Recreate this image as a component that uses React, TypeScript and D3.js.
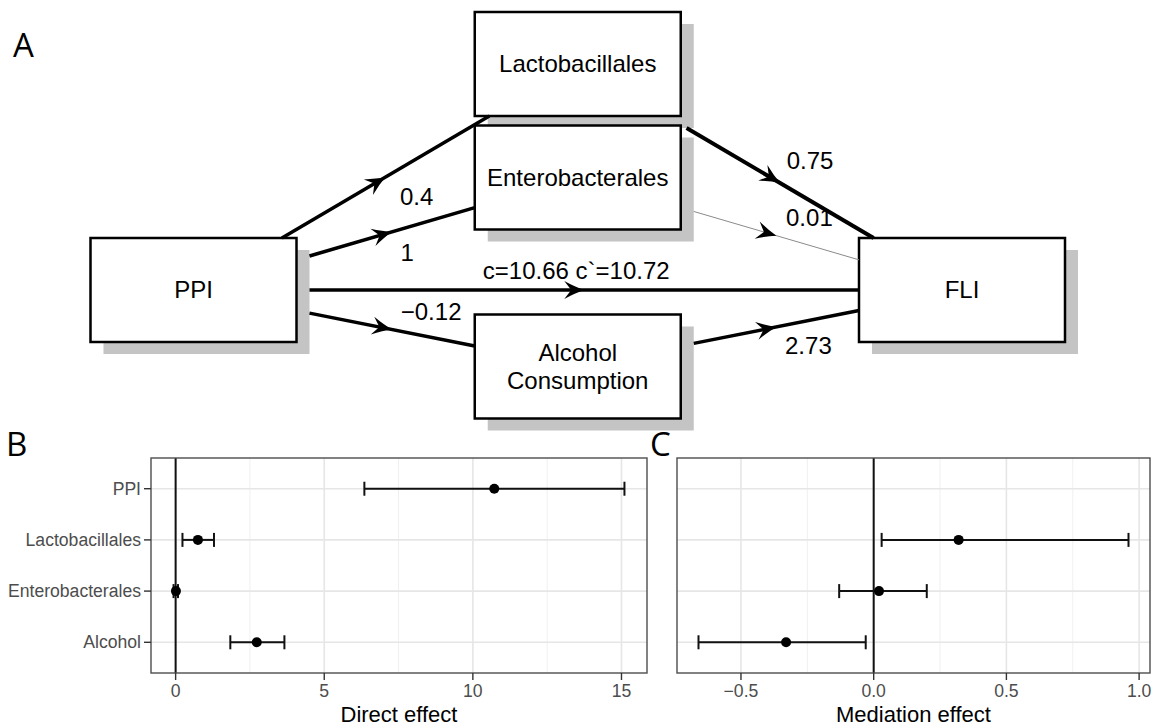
import React from "react";
import * as d3 from "d3";

// ---- path model (panel A) ----
const nodeNames = ["PPI", "Lactobacillales", "Enterobacterales", "Alcohol Consumption", "FLI"];
const edgeFrom = ["PPI", "PPI", "PPI", "PPI", "Lactobacillales", "Enterobacterales", "Alcohol Consumption"];
const edgeTo = ["Lactobacillales", "Enterobacterales", "FLI", "Alcohol Consumption", "FLI", "FLI", "FLI"];
const edgeLabels = ["0.4", "1", "c=10.66 c`=10.72", "\u22120.12", "0.75", "0.01", "2.73"];

// ---- forest plots (panels B, C) ----
const effectNames = ["PPI", "Lactobacillales", "Enterobacterales", "Alcohol"];
const directEst = [10.72, 0.75, 0.01, 2.73];
const directLow = [6.35, 0.23, -0.07, 1.84];
const directHigh = [15.1, 1.29, 0.08, 3.66];
const mediationNames = ["Lactobacillales", "Enterobacterales", "Alcohol"];
const mediationEst = [0.32, 0.02, -0.33];
const mediationLow = [0.03, -0.13, -0.66];
const mediationHigh = [0.96, 0.2, -0.03];

// layout of the diagram (column index + vertical centre)
const nodeCol: Record<string, number> = { PPI: 0, Lactobacillales: 1, Enterobacterales: 1, "Alcohol Consumption": 1, FLI: 2 };
const nodeCy: Record<string, number> = { PPI: 290, Lactobacillales: 64, Enterobacterales: 177.5, "Alcohol Consumption": 366.5, FLI: 290 };
const labelOffset = [[31, 20], [15, 21], [-8, -19], [39, -18], [30, -22], [33, -18], [32, 19]];
const edgeWidth = [3.5, 3.5, 3.5, 3.5, 4, 1, 3.5];

const W = 1155;
const H = 727;
const BOX_W = 206;
const BOX_H = 104;
const SH_X = 13;
const SH_Y = 12;
const sans = "'Liberation Sans', Arial, Helvetica, sans-serif";

type Rect = { x1: number; y1: number; x2: number; y2: number };

// where a ray from the box centre leaves the rectangle
function exitPoint(cx: number, cy: number, dx: number, dy: number, r: Rect) {
  let t = Infinity;
  if (dx > 0) t = Math.min(t, (r.x2 - cx) / dx);
  if (dx < 0) t = Math.min(t, (r.x1 - cx) / dx);
  if (dy > 0) t = Math.min(t, (r.y2 - cy) / dy);
  if (dy < 0) t = Math.min(t, (r.y1 - cy) / dy);
  return [cx + dx * t, cy + dy * t];
}

const PathDiagram = () => {
  const xCol = d3.scaleLinear().domain([0, 2]).range([193.5, 962]);
  const nodes = nodeNames.map((n) => {
    const cx = xCol(nodeCol[n]);
    const cy = nodeCy[n];
    const box = { x1: cx - BOX_W / 2, y1: cy - BOX_H / 2, x2: cx + BOX_W / 2, y2: cy + BOX_H / 2 };
    const ext = { ...box, x2: box.x2 + SH_X, y2: box.y2 + SH_Y };
    return { name: n, cx, cy, box, ext };
  });
  const byName = new Map(nodes.map((d) => [d.name, d]));

  const edges = edgeFrom.map((f, i) => {
    const a = byName.get(f)!;
    const b = byName.get(edgeTo[i])!;
    const dx = b.cx - a.cx;
    const dy = b.cy - a.cy;
    const [x1, y1] = exitPoint(a.cx, a.cy, dx, dy, a.ext);
    const [x2, y2] = exitPoint(b.cx, b.cy, -dx, -dy, b.box);
    const mx = (x1 + x2) / 2;
    const my = (y1 + y2) / 2;
    const ang = (Math.atan2(y2 - y1, x2 - x1) * 180) / Math.PI;
    return { x1, y1, x2, y2, mx, my, ang, label: edgeLabels[i], off: labelOffset[i], w: edgeWidth[i] };
  });

  return (
    <g>
      {nodes.map((d) => (
        <rect key={"s" + d.name} x={d.box.x1 + SH_X} y={d.box.y1 + SH_Y} width={BOX_W} height={BOX_H} fill="#c4c4c4" />
      ))}
      {nodes.map((d) => (
        <rect key={"b" + d.name} x={d.box.x1} y={d.box.y1} width={BOX_W} height={BOX_H} fill="#fff" stroke="#000" strokeWidth={2.5} />
      ))}
      {edges.map((e, i) => (
        <g key={"e" + i}>
          <line x1={e.x1} y1={e.y1} x2={e.x2} y2={e.y2} stroke={e.w < 2 ? "#8a8a8a" : "#000"} strokeWidth={e.w} />
          <path
            d="M0,0 Q-9,-3 -20,-9 L-13,0 L-20,9 Q-9,3 0,0 Z"
            fill="#000"
            transform={`translate(${e.mx},${e.my}) rotate(${e.ang})`}
          />
          <text x={e.mx + e.off[0]} y={e.my + e.off[1]} dy="0.35em" textAnchor="middle" fontFamily={sans} fontSize={24}>
            {e.label}
          </text>
        </g>
      ))}
      {nodes.map((d) => {
        const lines = d.name === "Alcohol Consumption" ? ["Alcohol", "Consumption"] : [d.name];
        return (
          <text key={"t" + d.name} x={d.cx} y={d.cy} textAnchor="middle" fontFamily={sans} fontSize={24}>
            {lines.map((l, j) => (
              <tspan key={j} x={d.cx} dy={j === 0 ? `${0.35 - (lines.length - 1) * 0.58}em` : "1.16em"}>
                {l}
              </tspan>
            ))}
          </text>
        );
      })}
    </g>
  );
};

type ForestProps = {
  names: string[];
  est: number[];
  low: number[];
  high: number[];
  left: number;
  right: number;
  showY: boolean;
  title: string;
  fmt: (v: number) => string;
};

const TOP = 458;
const BOTTOM = 673;

const Forest = ({ names, est, low, high, left, right, showY, title, fmt }: ForestProps) => {
  const lo = d3.min(low)!;
  const hi = d3.max(high)!;
  const pad = (hi - lo) * 0.05;
  const x = d3.scaleLinear().domain([lo - pad, hi + pad]).range([left, right]);
  const y = d3.scalePoint<string>().domain(effectNames).range([TOP, BOTTOM]).padding(0.6);
  const major = x.ticks(4);
  const step = major[1] - major[0];
  const minor = [major[0] - step / 2, ...major.map((t) => t + step / 2)].filter((t) => t > x.domain()[0] && t < x.domain()[1]);
  const grey = "#4d4d4d";
  return (
    <g>
      <rect x={left} y={TOP} width={right - left} height={BOTTOM - TOP} fill="#fff" />
      {minor.map((t) => (
        <line key={"m" + t} x1={x(t)} x2={x(t)} y1={TOP} y2={BOTTOM} stroke="#f0f0f0" strokeWidth={1} />
      ))}
      {major.map((t) => (
        <line key={"M" + t} x1={x(t)} x2={x(t)} y1={TOP} y2={BOTTOM} stroke="#e6e6e6" strokeWidth={1.6} />
      ))}
      {effectNames.map((n) => (
        <line key={"h" + n} x1={left} x2={right} y1={y(n)} y2={y(n)} stroke="#e6e6e6" strokeWidth={1.6} />
      ))}
      <line x1={x(0)} x2={x(0)} y1={TOP} y2={BOTTOM} stroke="#111" strokeWidth={2} />
      {names.map((n, i) => {
        const cy = y(n)!;
        return (
          <g key={"p" + n}>
            <line x1={x(low[i])} x2={x(high[i])} y1={cy} y2={cy} stroke="#111" strokeWidth={2} />
            <line x1={x(low[i])} x2={x(low[i])} y1={cy - 7} y2={cy + 7} stroke="#111" strokeWidth={2} />
            <line x1={x(high[i])} x2={x(high[i])} y1={cy - 7} y2={cy + 7} stroke="#111" strokeWidth={2} />
            <circle cx={x(est[i])} cy={cy} r={5} fill="#000" />
          </g>
        );
      })}
      <rect x={left} y={TOP} width={right - left} height={BOTTOM - TOP} fill="none" stroke="#4d4d4d" strokeWidth={1.4} />
      {major.map((t) => (
        <g key={"xt" + t}>
          <line x1={x(t)} x2={x(t)} y1={BOTTOM} y2={BOTTOM + 7} stroke="#333" strokeWidth={1.4} />
          <text x={x(t)} y={BOTTOM + 24} textAnchor="middle" fontFamily={sans} fontSize={17.6} fill={grey}>
            {fmt(t)}
          </text>
        </g>
      ))}
      {showY &&
        effectNames.map((n) => (
          <g key={"yt" + n}>
            <line x1={left - 7} x2={left} y1={y(n)} y2={y(n)} stroke="#333" strokeWidth={1.4} />
            <text x={left - 10} y={y(n)} dy="0.35em" textAnchor="end" fontFamily={sans} fontSize={17.6} fill={grey}>
              {n}
            </text>
          </g>
        ))}
      <text x={(left + right) / 2} y={722} textAnchor="middle" fontFamily={sans} fontSize={22} fill="#000">
        {title}
      </text>
    </g>
  );
};

const App = () => {
  const panelFont = "'Open Sans', 'Noto Sans', sans-serif";
  return (
    <div>
      <style>{`body{margin:0;}`}</style>
      <svg width={W} height={H} style={{ display: "block", background: "#fff" }}>
        <rect width={W} height={H} fill="#fff" />
        <PathDiagram />
        <Forest
          names={effectNames}
          est={directEst}
          low={directLow}
          high={directHigh}
          left={151}
          right={647}
          showY={true}
          title="Direct effect"
          fmt={d3.format("d")}
        />
        <Forest
          names={mediationNames}
          est={mediationEst}
          low={mediationLow}
          high={mediationHigh}
          left={677}
          right={1150}
          showY={false}
          title="Mediation effect"
          fmt={d3.format(".1f")}
        />
        <text x={13} y={57} fontFamily={panelFont} fontSize={33}>A</text>
        <text x={6} y={456} fontFamily={panelFont} fontSize={33}>B</text>
        <text x={650} y={456} fontFamily={panelFont} fontSize={33}>C</text>
      </svg>
    </div>
  );
};

export default App;
